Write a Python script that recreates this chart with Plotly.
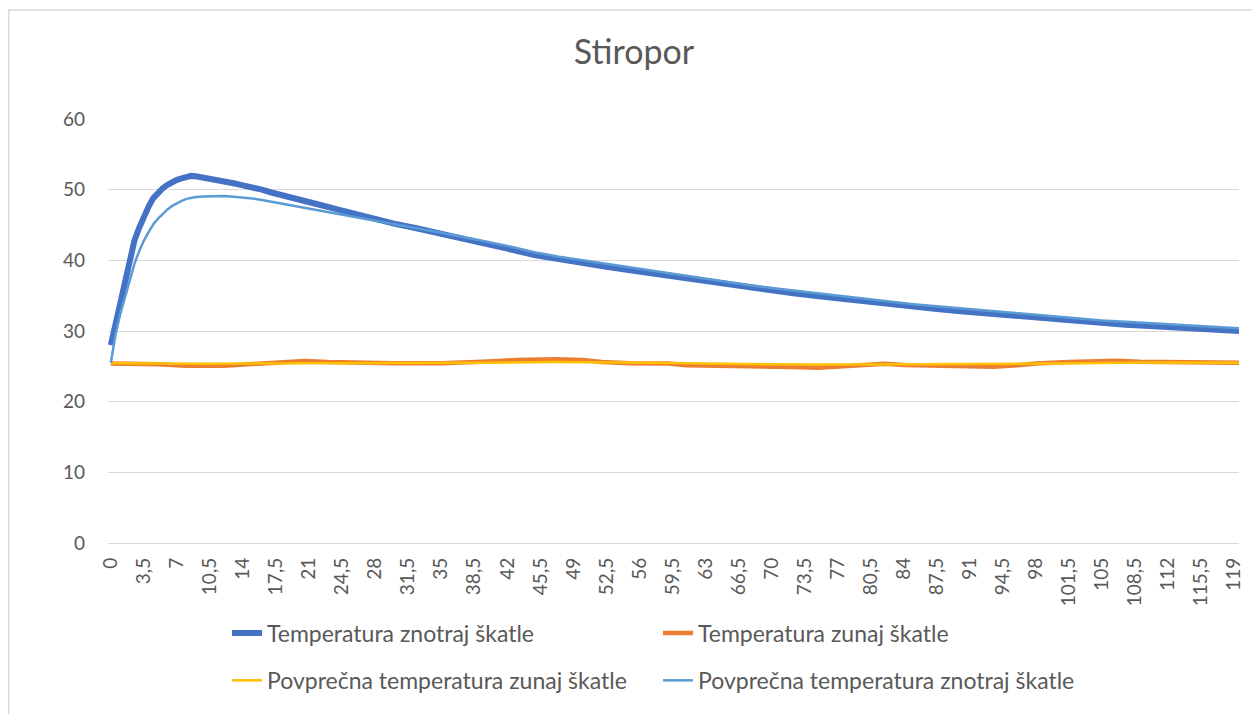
import plotly.graph_objects as go

# ---- data ----
x_in = [0, 0.5, 1, 1.5, 2, 2.5, 3, 3.5, 4, 4.5, 5, 5.5, 6, 6.5, 7, 7.5, 8, 8.5, 9, 9.5,
        10, 10.5, 11, 12, 13, 14, 15, 16, 17, 18, 19, 20, 22, 24, 26, 28, 30, 32.5, 35,
        37.5, 40, 42.5, 45, 47.5, 50, 52.5, 55, 57.5, 60, 62.5, 65, 67.5, 70, 72.5, 75,
        77.5, 80, 82.5, 85, 87.5, 90, 92.5, 95, 97.5, 100, 102.5, 105, 107.5, 110, 112.5,
        115, 117.5, 119.5]
temp_in = [28.0, 31.0, 34.0, 37.5, 40.5, 42.8, 44.6, 46.2, 47.6, 48.8, 49.6, 50.2, 50.7, 51.1,
           51.4, 51.6, 51.8, 51.95, 51.9, 51.8, 51.7, 51.6, 51.5, 51.2, 50.9, 50.6, 50.4, 50.0,
           49.6, 49.3, 48.9, 48.6, 47.9, 47.2, 46.5, 45.8, 45.2, 44.5, 43.8, 43.1, 42.3, 41.5,
           40.7, 40.1, 39.6, 39.1, 38.6, 38.1, 37.6, 37.1, 36.6, 36.1, 35.7, 35.3, 34.9, 34.5,
           34.1, 33.7, 33.4, 33.1, 32.8, 32.5, 32.2, 31.9, 31.6, 31.4, 31.1, 30.9, 30.7, 30.5,
           30.4, 30.2, 30.0]

x_avg_in = [0, 0.5, 1, 1.5, 2, 2.5, 3, 3.5, 4, 4.5, 5, 5.5, 6, 6.5, 7, 7.5, 8, 9, 10, 11, 12,
            13, 14, 15, 16, 17, 18, 20, 22, 24, 26, 28, 30, 32.5, 35, 37.5, 40, 42.5, 45, 47.5,
            50, 52.5, 55, 57.5, 60, 62.5, 65, 67.5, 70, 72.5, 75, 77.5, 80, 82.5, 85, 87.5, 90,
            92.5, 95, 97.5, 100, 102.5, 105, 107.5, 110, 112.5, 115, 117.5, 119.5]
avg_in = [25.5, 29.5, 32.4, 34.8, 37.3, 39.5, 41.3, 42.8, 44.0, 45.1, 45.9, 46.6, 47.2, 47.7,
          48.1, 48.4, 48.7, 48.95, 49.05, 49.1, 49.1, 49.0, 48.9, 48.75, 48.55, 48.3, 48.1,
          47.6, 47.1, 46.6, 46.1, 45.6, 45.1, 44.5, 43.9, 43.3, 42.6, 41.9, 41.1, 40.5, 40.0,
          39.5, 39.0, 38.4, 37.9, 37.4, 36.9, 36.5, 36.1, 35.7, 35.3, 34.9, 34.5, 34.1, 33.8,
          33.5, 33.2, 32.9, 32.6, 32.3, 32.0, 31.8, 31.5, 31.3, 31.1, 30.9, 30.8, 30.6, 30.4]

x_out = [0, 3, 5, 6.5, 8, 12, 13.5, 15, 18, 20.5, 23, 25.5, 30, 35, 37.5, 40, 43, 47, 50, 52,
         55, 59, 61, 65, 67.5, 72, 75, 77.5, 80, 82, 84, 87.5, 91, 93.5, 96, 98, 101.5, 104,
         106.5, 109, 112, 116, 119.5]
temp_out = [25.4, 25.4, 25.3, 25.2, 25.1, 25.1, 25.2, 25.4, 25.5, 25.75, 25.6, 25.5, 25.45,
            25.45, 25.5, 25.7, 25.9, 26.0, 25.9, 25.6, 25.45, 25.4, 25.15, 25.1, 24.95, 24.9,
            24.8, 24.95, 25.2, 25.35, 25.2, 25.05, 25.05, 24.95, 25.15, 25.4, 25.6, 25.7,
            25.8, 25.65, 25.6, 25.55, 25.5]

x_avg_out = [0, 10, 20, 30, 40, 47, 52, 57, 65, 75, 85, 92, 100, 110, 119.5]
avg_out = [25.45, 25.35, 25.45, 25.45, 25.5, 25.6, 25.6, 25.5, 25.35, 25.25, 25.3, 25.3, 25.4,
           25.55, 25.5]

tick_vals = [0, 3.5, 7, 10.5, 14, 17.5, 21, 24.5, 28, 31.5, 35, 38.5, 42, 45.5, 49, 52.5, 56,
             59.5, 63, 66.5, 70, 73.5, 77, 80.5, 84, 87.5, 91, 94.5, 98, 101.5, 105, 108.5,
             112, 115.5, 119]
tick_text = ["0", "3,5", "7", "10,5", "14", "17,5", "21", "24,5", "28", "31,5", "35", "38,5",
             "42", "45,5", "49", "52,5", "56", "59,5", "63", "66,5", "70", "73,5", "77", "80,5",
             "84", "87,5", "91", "94,5", "98", "101,5", "105", "108,5", "112", "115,5", "119"]

names = ["Temperatura znotraj škatle", "Temperatura zunaj škatle",
         "Povprečna temperatura zunaj škatle", "Povprečna temperatura znotraj škatle"]
title = "Stiropor"

FONT = "Lato, 'Open Sans', sans-serif"
GREY = "#595959"

fig = go.Figure()
fig.add_trace(go.Scatter(x=x_in, y=temp_in, mode="lines", name=names[0],
                         line=dict(color="#4472C4", width=6), legend="legend"))
fig.add_trace(go.Scatter(x=x_out, y=temp_out, mode="lines", name=names[1],
                         line=dict(color="#ED7D31", width=4.5), legend="legend"))
fig.add_trace(go.Scatter(x=x_avg_out, y=avg_out, mode="lines", name=names[2],
                         line=dict(color="#FFC000", width=2.5), legend="legend2"))
fig.add_trace(go.Scatter(x=x_avg_in, y=avg_in, mode="lines", name=names[3],
                         line=dict(color="#5B9BD5", width=2.5), legend="legend2"))

# page has an 8px body margin: work in page pixels, convert to figure pixels
OFF = 8
W, H = 1260 - OFF, 714 - OFF
L = 108 - OFF
T = 119 - OFF
R = W - (1239 - OFF)
B = H - (548 - OFF)
pw, ph = W - L - R, H - T - B

def px(xp):  # page x pixel -> paper
    return (xp - OFF - L) / pw

def py(yp):  # page y pixel -> paper
    return (H - B - (yp - OFF)) / ph

leg_common = dict(orientation="h", xanchor="left", yanchor="middle",
                  font=dict(family=FONT, size=23, color=GREY),
                  entrywidth=386, entrywidthmode="pixels",
                  bgcolor="rgba(0,0,0,0)", traceorder="normal")

fig.update_layout(
    width=W, height=H,
    margin=dict(l=L, r=R, t=T, b=B),
    paper_bgcolor="white", plot_bgcolor="white",
    title=dict(text=title, x=(634 - OFF) / W, xref="container", xanchor="center",
               y=1 - (52 - OFF) / H, yref="container", yanchor="middle",
               font=dict(family=FONT, size=34, color=GREY)),
    showlegend=True,
    legend=dict(x=px(227), y=py(639), **leg_common),
    legend2=dict(x=px(227), y=py(687), **leg_common),
    xaxis=dict(range=[-0.3, 119.5], tickmode="array", tickvals=tick_vals, ticktext=tick_text,
               tickangle=-90, showgrid=False, zeroline=False, showline=False,
               ticks="", ticklabelstandoff=10,
               tickfont=dict(family=FONT, size=19, color=GREY)),
    yaxis=dict(range=[0, 60], dtick=10, showgrid=True, gridcolor="#D9D9D9", gridwidth=1,
               zeroline=True, zerolinecolor="#D9D9D9", zerolinewidth=1, showline=False,
               ticks="", ticklabelstandoff=22,
               tickfont=dict(family=FONT, size=19, color=GREY)),
    shapes=[
        dict(type="line", xref="paper", yref="paper", x0=px(8.7), x1=px(8.7), y0=1 + T / ph,
             y1=py(730), line=dict(color="#D9D9D9", width=1.5)),
        dict(type="line", xref="paper", yref="paper", x0=px(8.7), x1=px(1280),
             y0=1 + (T - 0.8) / ph, y1=1 + (T - 0.8) / ph,
             line=dict(color="#D9D9D9", width=1.5)),
    ],
)

fig.write_html("out.html")
